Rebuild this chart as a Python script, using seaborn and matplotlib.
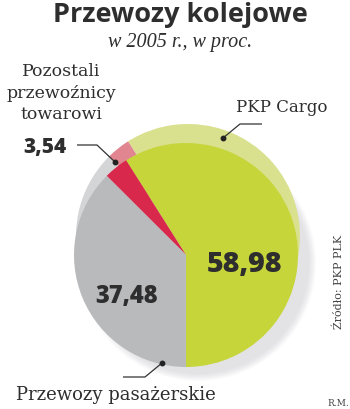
import matplotlib
matplotlib.use("Agg")
import matplotlib.pyplot as plt
import seaborn as sns
from matplotlib.patches import Circle

# ---- data ----
categories = ["PKP Cargo", "Pozostali przewoźnicy towarowi", "Przewozy pasażerskie"]
values = [58.98, 3.54, 37.48]
value_labels = ["58,98", "3,54", "37,48"]
title = "Przewozy kolejowe"
subtitle = "w 2005 r., w proc."
source = "Źródło: PKP PLK"
author = "R.M."

colors_front = ["#c6d53a", "#d8284c", "#b9babc"]
colors_back = ["#d9e08e", "#e18590", "#d4d5d6"]

sns.set_theme(style="white")
W, H = 350, 409
fig = plt.figure(figsize=(W / 100, H / 100), dpi=100)
ax = fig.add_axes([0, 0, 1, 1])

def Y(y):
    return H - y

cx, cy, r = 186, 255, 112

# soft drop shadow
for k in range(8):
    ax.add_patch(Circle((cx + 12, Y(cy + 8)), r + 6 - k, color="#9a9ca8",
                        alpha=0.035, lw=0, zorder=0))

# back (lighter) copy
ax.pie(values, colors=colors_back, startangle=270, counterclock=True,
       center=(cx + 2, Y(cy - 19)), radius=r, frame=True,
       wedgeprops=dict(linewidth=0, zorder=1))
# front pie
ax.pie(values, colors=colors_front, startangle=270, counterclock=True,
       center=(cx, Y(cy)), radius=r, frame=True,
       wedgeprops=dict(linewidth=0, zorder=2))
ax.set_xlim(0, W)
ax.set_ylim(0, H)
ax.set_aspect("equal")
ax.axis("off")

dark = "#2e2e2e"
label_font = "DejaVu Serif"

fig.text(180 / W, 1 - 15 / H, title, ha="center", va="center",
         fontsize=19.5, fontweight="bold", family="Open Sans", color=dark)
fig.text(180 / W, 1 - 43 / H, subtitle, ha="center", va="center",
         fontsize=14.5, style="italic", family="Liberation Serif", color=dark)

# labels
ax.text(61, Y(93), "Pozostali\nprzewoźnicy\ntowarowi", ha="center", va="center",
        fontsize=12.5, family=label_font, color=dark, linespacing=1.38, zorder=5)
ax.text(282, Y(107), categories[0], ha="center", va="center",
        fontsize=12, family=label_font, color=dark, zorder=5)
ax.text(116, Y(395), categories[2], ha="center", va="center",
        fontsize=13, family=label_font, color=dark, zorder=5)

# values
ax.text(245, Y(265), value_labels[0], ha="center", va="center",
        fontsize=20.5, fontweight="heavy", family="Open Sans", color=dark, zorder=5)
ax.text(127, Y(297), value_labels[2], ha="center", va="center",
        fontsize=17, fontweight="heavy", family="Open Sans", color=dark, zorder=5)
ax.text(45, Y(147), value_labels[1], ha="center", va="center",
        fontsize=15, fontweight="heavy", family="Open Sans", color=dark, zorder=5)

# leader lines
lc = "#333333"
def leader(pts, dot):
    xs = [p[0] for p in pts]
    ys = [Y(p[1]) for p in pts]
    ax.plot(xs, ys, color=lc, lw=0.9, zorder=6, solid_capstyle="butt")
    ax.plot([dot[0]], [Y(dot[1])], "o", color="#222222", ms=3.2, zorder=7)

leader([(77, 145), (97, 145), (115, 162)], (115, 162))
leader([(262, 124), (240, 124), (223, 138)], (223, 138))
leader([(123, 377), (145, 377), (162, 363)], (162, 363))

fig.text(339 / W, 1 - 282 / H, source, ha="center", va="center", rotation=90,
         fontsize=8, family="DejaVu Serif", color="#444444")
fig.text(338 / W, 1 - 403 / H, author, ha="center", va="center",
         fontsize=6.5, family="DejaVu Serif", color="#444444")

fig.savefig("out.png", dpi=100, facecolor="white")
